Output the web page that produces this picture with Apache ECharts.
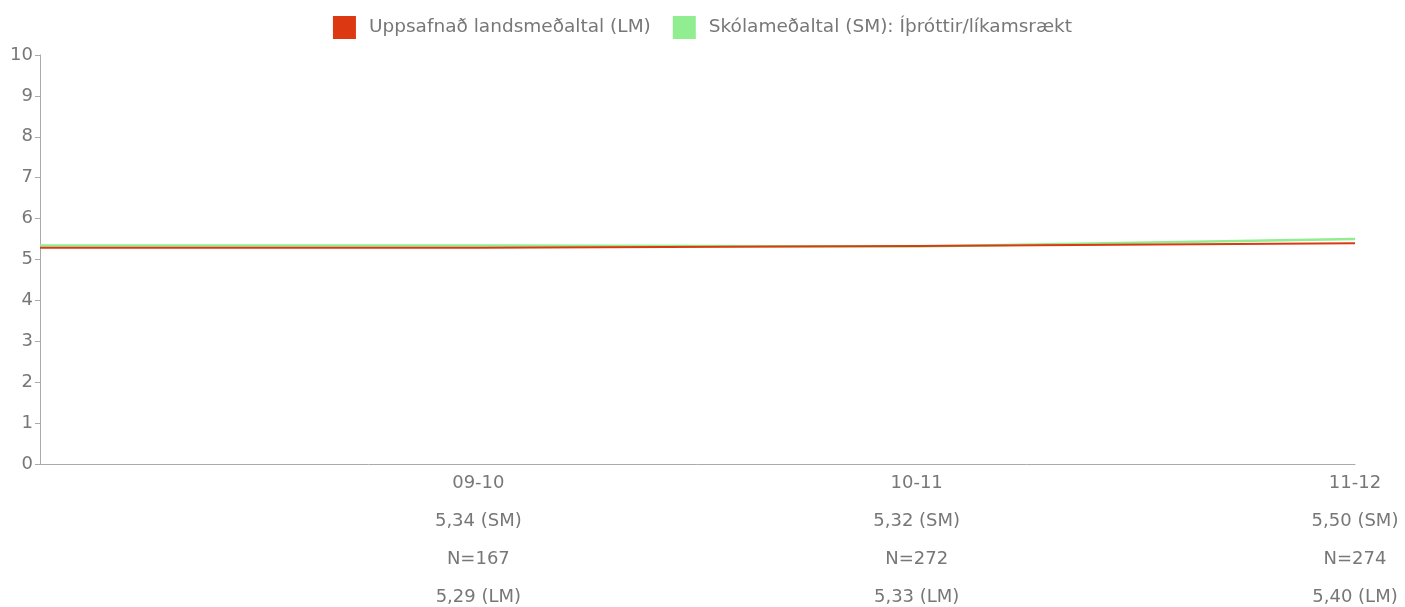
<!DOCTYPE html>
<html>
<head>
<meta charset="utf-8">
<script src="https://cdn.jsdelivr.net/npm/echarts@6/dist/echarts.min.js"></script>
<style>html,body{margin:0;padding:0;background:#fff;overflow:hidden}#c{width:1405px;height:607px}</style>
</head>
<body>
<div id="c"></div>
<script>
const categories = ['', '09-10', '10-11', '11-12'];
const smValues = [5.34, 5.34, 5.32, 5.50];
const lmValues = [5.29, 5.29, 5.33, 5.40];
const nValues = [null, 167, 272, 274];
const yTicks = [0, 1, 2, 3, 4, 5, 6, 7, 8, 9, 10];
const seriesNames = ['Uppsafnað landsmeðaltal (LM)', 'Skólameðaltal (SM): Íþróttir/líkamsrækt'];

const fmt = v => v.toFixed(2).replace('.', ',');
const labels = categories.map((c, i) => c === '' ? '' :
  c + '\n' + fmt(smValues[i]) + ' (SM)\nN=' + nValues[i] + '\n' + fmt(lmValues[i]) + ' (LM)');

const FONT = 'DejaVu Sans, Verdana, sans-serif';
const chart = echarts.init(document.getElementById('c'));
chart.setOption({
  animation: false,
  textStyle: { fontFamily: FONT },
  legend: {
    top: 11,
    left: 'center',
    itemWidth: 23,
    itemHeight: 23,
    itemGap: 22,
    icon: 'rect',
    textStyle: { fontSize: 18.5, color: '#777', fontFamily: FONT, padding: [0, 0, 0, 8] },
    data: seriesNames
  },
  grid: { left: 40, right: 50, top: 55, bottom: 143, containLabel: false, outerBoundsMode: 'none' },
  xAxis: {
    type: 'category',
    data: labels,
    boundaryGap: false,
    axisLine: { lineStyle: { color: '#aaa', width: 1 } },
    axisTick: { show: false },
    axisLabel: { color: '#777', fontSize: 18, fontFamily: FONT, lineHeight: 38, margin: 0, interval: 0 },
    splitLine: { show: false }
  },
  yAxis: {
    type: 'value',
    min: yTicks[0],
    max: yTicks[yTicks.length - 1],
    interval: 1,
    axisLine: { show: true, lineStyle: { color: '#aaa', width: 1 } },
    axisTick: { show: true, length: 5, lineStyle: { color: '#aaa' } },
    axisLabel: { color: '#777', fontSize: 18, fontFamily: FONT, margin: 7 },
    splitLine: { show: false }
  },
  series: [
    {
      name: seriesNames[1], type: 'line', data: smValues, symbol: 'none',
      itemStyle: { color: '#90ee90' }, lineStyle: { color: '#90ee90', width: 2.5 }, z: 2
    },
    {
      name: seriesNames[0], type: 'line', data: lmValues, symbol: 'none',
      itemStyle: { color: '#dc3912' }, lineStyle: { color: '#dc3912', width: 2 }, z: 3
    }
  ]
});
</script>
</body>
</html>
